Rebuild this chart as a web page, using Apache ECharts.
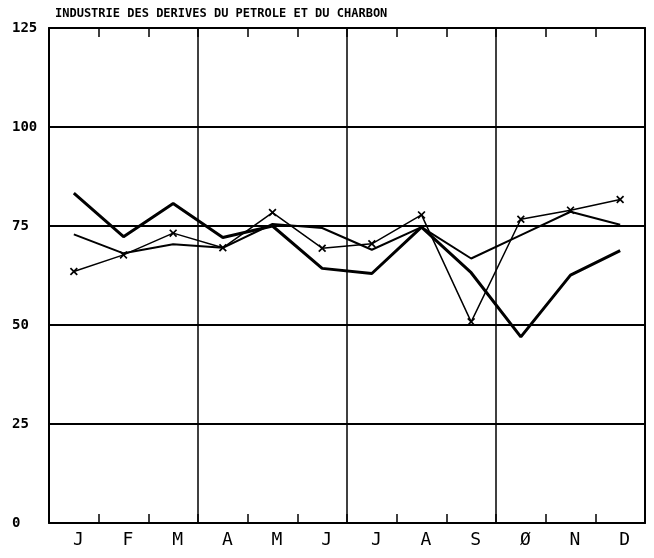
<!DOCTYPE html>
<html>
<head>
<meta charset="utf-8">
<script src="https://cdn.jsdelivr.net/npm/echarts@6/dist/echarts.min.js"></script>
<style>html,body{margin:0;padding:0;background:#fff;}#c{width:654px;height:558px;}</style>
</head>
<body>
<div id="c"></div>
<script>
const titleText = "INDUSTRIE DES DERIVES DU PETROLE ET DU CHARBON";
const months = ["J","F","M","A","M","J","J","A","S","Ø","N","D"];
const yTicks = [0, 25, 50, 75, 100, 125];
const seriesThick = [83.3, 72.3, 80.7, 72.1, 75.0, 64.3, 63.0, 74.7, 63.2, 47.0, 62.6, 68.8];
const seriesMedium = [72.9, 68.1, 70.4, 69.5, 75.5, 74.5, 69.0, 74.7, 66.8, 72.7, 78.6, 75.3];
const seriesCross = [63.5, 67.7, 73.2, 69.5, 78.4, 69.4, 70.5, 77.8, 50.8, 76.7, 79.0, 81.7];

const chart = echarts.init(document.getElementById('c'), null, {renderer: 'canvas'});
const crossPath = 'path://M0,1.5L1.5,0L5,3.5L8.5,0L10,1.5L6.5,5L10,8.5L8.5,10L5,6.5L1.5,10L0,8.5L3.5,5Z';
const mono = "'DejaVu Sans Mono', monospace";
chart.setOption({
  animation: false,
  backgroundColor: '#fff',
  title: {
    text: titleText, left: 50, top: 3,
    textStyle: {fontFamily: mono, fontWeight: 'bold', fontSize: 12, color: '#000'}
  },
  grid: {left: 49, right: 9, top: 28, bottom: 35, containLabel: false},
  xAxis: [{
    type: 'category', data: months, boundaryGap: true, position: 'bottom',
    axisLine: {show: true, onZero: false, lineStyle: {color: '#000', width: 2}},
    axisTick: {show: true, inside: true, length: 9, interval: 0, lineStyle: {color: '#000', width: 1.5}},
    axisLabel: {interval: 0, margin: 8, fontFamily: mono, fontSize: 18, color: '#000', padding: [0, 0, 0, 9]},
    splitLine: {show: true, interval: function (i) { return i > 0 && i % 3 === 0; }, lineStyle: {color: '#000', width: 1.5}}
  }, {
    type: 'category', data: months, boundaryGap: true, position: 'top',
    axisLine: {show: true, onZero: false, lineStyle: {color: '#000', width: 2}},
    axisTick: {show: true, inside: true, length: 9, interval: 0, lineStyle: {color: '#000', width: 1.5}},
    axisLabel: {show: false},
    splitLine: {show: false}
  }],
  yAxis: [{
    type: 'value', min: yTicks[0], max: yTicks[yTicks.length - 1], interval: 25, position: 'left',
    axisLine: {show: true, onZero: false, lineStyle: {color: '#000', width: 2}},
    axisTick: {show: false},
    axisLabel: {margin: 37, align: 'left', fontFamily: mono, fontWeight: 'bold', fontSize: 14, color: '#000'},
    splitLine: {show: true, lineStyle: {color: '#000', width: 2}}
  }, {
    type: 'value', min: yTicks[0], max: yTicks[yTicks.length - 1], interval: 25, position: 'right',
    axisLine: {show: true, onZero: false, lineStyle: {color: '#000', width: 2}},
    axisTick: {show: false}, axisLabel: {show: false}, splitLine: {show: false}
  }],
  series: [{
    type: 'line', data: seriesThick, symbol: 'none',
    lineStyle: {color: '#000', width: 3}
  }, {
    type: 'line', data: seriesMedium, symbol: 'none',
    lineStyle: {color: '#000', width: 2}
  }, {
    type: 'line', data: seriesCross, symbol: crossPath, symbolSize: 8, showSymbol: true,
    itemStyle: {color: '#000'},
    lineStyle: {color: '#000', width: 1.5}
  }]
});
</script>
</body>
</html>
